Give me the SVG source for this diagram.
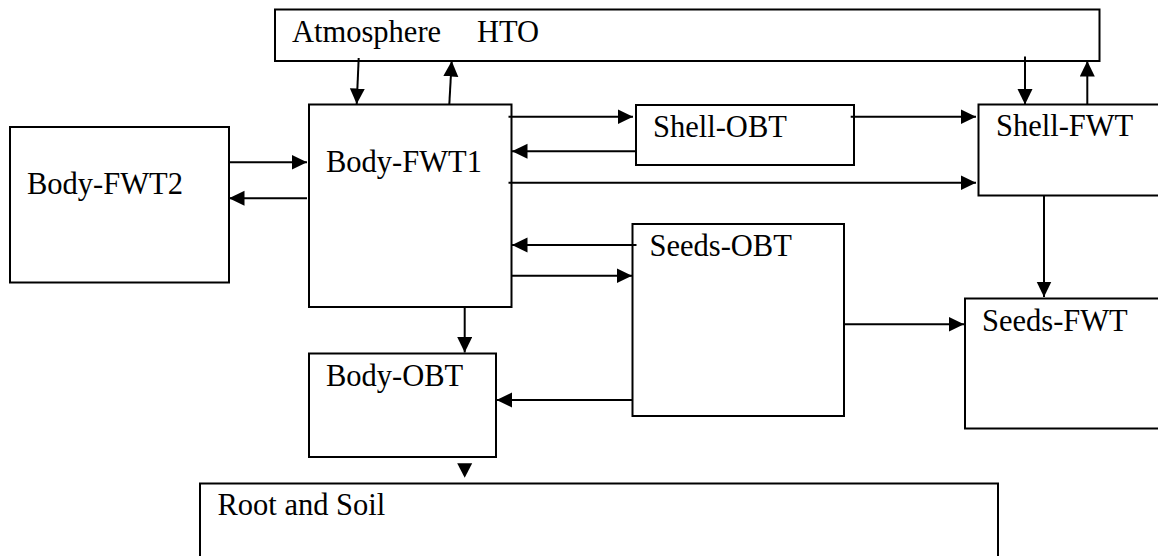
<svg xmlns="http://www.w3.org/2000/svg" width="1158" height="556" viewBox="0 0 1158 556">
<style>
.box{fill:#fff;stroke:#000;stroke-width:2}
.lbl{font-family:"Liberation Serif","Times New Roman",serif;font-size:30.5px;fill:#000}
.c{stroke:#000;stroke-width:2;fill:none;marker-end:url(#ah)}
</style>
<defs>
<marker id="ah" markerUnits="userSpaceOnUse" markerWidth="17" markerHeight="17" refX="15.5" refY="7.5" orient="auto">
<path d="M0,0 L15.5,7.5 L0,15 z" fill="#000"/>
</marker>
</defs>
<rect width="1158" height="556" fill="#fff"/>
<g id="atmosphere"><rect class="box" x="275" y="9.5" width="824.5" height="51.5"/><text class="lbl" x="292" y="42">Atmosphere</text><text class="lbl" x="477" y="42">HTO</text></g>
<g id="body-fwt2"><rect class="box" x="10" y="127" width="219" height="155.5"/><text class="lbl" x="27" y="194">Body-FWT2</text></g>
<g id="body-fwt1"><rect class="box" x="309" y="104.5" width="202.5" height="202.5"/><text class="lbl" x="326" y="171.5">Body-FWT1</text></g>
<g id="shell-obt"><rect class="box" x="636" y="105" width="218" height="60"/><text class="lbl" x="653" y="136.5">Shell-OBT</text></g>
<g id="shell-fwt"><rect class="box" x="978.5" y="104.5" width="200" height="91"/><text class="lbl" x="996" y="136">Shell-FWT</text></g>
<g id="seeds-obt"><rect class="box" x="632.5" y="224" width="211.5" height="192"/><text class="lbl" x="649.5" y="256">Seeds-OBT</text></g>
<g id="seeds-fwt"><rect class="box" x="965" y="298.5" width="210" height="130"/><text class="lbl" x="982" y="331">Seeds-FWT</text></g>
<g id="body-obt"><rect class="box" x="309" y="353.5" width="187" height="103.5"/><text class="lbl" x="326" y="386">Body-OBT</text></g>
<g id="root-soil"><rect class="box" x="200" y="483.5" width="798" height="90"/><text class="lbl" x="217.5" y="515">Root and Soil</text></g>
<g id="connectors">
<line class="c" x1="358.7" y1="58" x2="356.7" y2="104"/>
<line class="c" x1="449.3" y1="104.5" x2="451.7" y2="61"/>
<line class="c" x1="1025" y1="56.5" x2="1025" y2="104.5"/>
<line class="c" x1="1087.3" y1="104.5" x2="1087.3" y2="61"/>
<line class="c" x1="229" y1="162.3" x2="307" y2="162.3"/>
<line class="c" x1="307" y1="198.3" x2="229" y2="198.3"/>
<line class="c" x1="508.5" y1="116.7" x2="633" y2="116.7"/>
<line class="c" x1="636" y1="151.3" x2="512" y2="151.3"/>
<line class="c" x1="508.5" y1="182.7" x2="976" y2="182.7"/>
<line class="c" x1="850.7" y1="116.7" x2="976" y2="116.7"/>
<line class="c" x1="1044" y1="196" x2="1044" y2="297"/>
<line class="c" x1="636.5" y1="245" x2="512" y2="245"/>
<line class="c" x1="511.5" y1="275.7" x2="632" y2="275.7"/>
<line class="c" x1="844" y1="324.3" x2="964" y2="324.3"/>
<line class="c" x1="464.7" y1="307" x2="464.7" y2="352.5"/>
<line class="c" x1="632.5" y1="400" x2="496.5" y2="400"/>
<path d="M457.2,463.3 L472.2,463.3 L464.7,477.8 z" fill="#000"/>
</g>
</svg>
